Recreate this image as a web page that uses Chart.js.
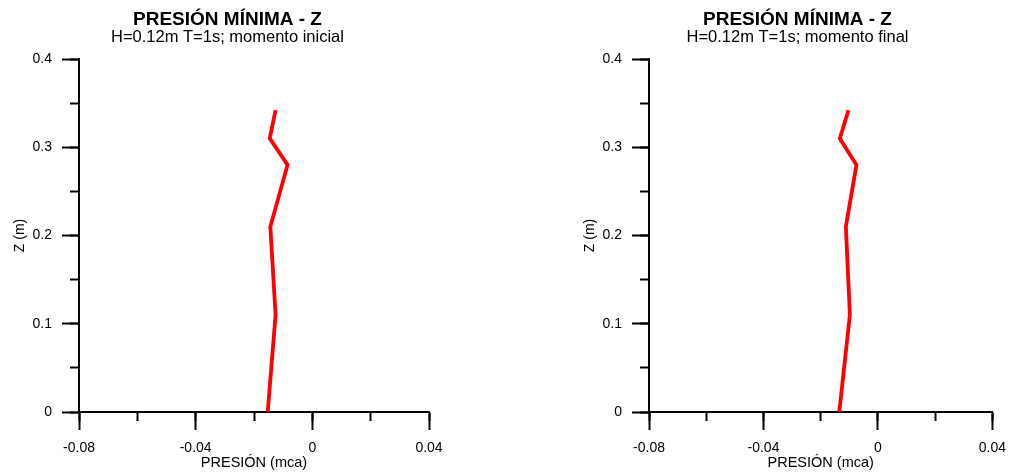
<!DOCTYPE html>
<html>
<head>
<meta charset="utf-8">
<title>Presión mínima - Z</title>
<script src="https://cdn.jsdelivr.net/npm/chart.js@4.4.1/dist/chart.umd.min.js"></script>
<style>
  body { margin: 0; background: #fff; overflow: hidden; }
  canvas { position: absolute; top: 0; }
  #chartInicial { left: 0; }
  #chartFinal { left: 570px; }
</style>
</head>
<body>
<canvas id="chartInicial" width="455" height="476"></canvas>
<canvas id="chartFinal" width="446" height="476"></canvas>
<script>
// Z (m) levels and minimum pressure (mca)
const zLevels = [0, 0.11, 0.21, 0.28, 0.31, 0.342];
const presionInicial = [-0.0153, -0.0126, -0.0144, -0.0085, -0.0146, -0.0126];
const presionFinal = [-0.0135, -0.0098, -0.0112, -0.0075, -0.0133, -0.0103];

const xTicks = [-0.08, -0.04, 0, 0.04];
const xMinorTicks = [-0.08, -0.06, -0.04, -0.02, 0, 0.02, 0.04];
const zTicks = [0, 0.1, 0.2, 0.3, 0.4];
const zMinorTicks = [0, 0.05, 0.1, 0.15, 0.2, 0.25, 0.3, 0.35, 0.4];

const fam = '"Liberation Sans", Arial, sans-serif';

function setTicks(list) {
    return function (scale) {
        scale.ticks = list.map(v => ({ value: v }));
    };
}

function makeChart(id, presion, subtitle, rightPad) {
    const ctx = document.getElementById(id).getContext('2d');
    const points = zLevels.map((z, i) => ({ x: presion[i], y: z }));

    new Chart(ctx, {
        type: 'scatter',
        data: {
            datasets: [{
                data: points,
                showLine: true,
                borderColor: '#ff0000',
                borderWidth: 3.8,
                borderJoinStyle: 'miter',
                pointRadius: 0,
                fill: false
            }]
        },
        options: {
            responsive: false,
            animation: false,
            // left padding keeps the title centred where the original has it
            layout: { padding: { left: 26, right: rightPad, top: 0, bottom: 0 } },
            plugins: {
                legend: { display: false },
                tooltip: { enabled: false },
                title: {
                    display: true,
                    text: 'PRESIÓN MÍNIMA - Z',
                    color: '#000',
                    font: { family: fam, size: 19, weight: 'bold', lineHeight: 1 },
                    padding: { top: 10.5, bottom: 0 }
                },
                subtitle: {
                    display: true,
                    text: subtitle,
                    color: '#000',
                    font: { family: fam, size: 16.5, lineHeight: 1 },
                    padding: { top: 0, bottom: 13 }
                }
            },
            scales: {
                x: {
                    type: 'linear',
                    position: 'bottom',
                    weight: 1,
                    min: -0.08,
                    max: 0.04,
                    afterBuildTicks: setTicks(xTicks),
                    afterFit: function (scale) { scale.height = 64; },
                    ticks: {
                        color: '#000',
                        padding: 10,
                        maxRotation: 0,
                        font: { family: fam, size: 14 },
                        callback: v => String(v)
                    },
                    grid: { drawOnChartArea: false, tickLength: 18, tickWidth: 2, tickColor: '#000' },
                    border: { display: true, color: '#000', width: 2 },
                    title: {
                        display: true,
                        text: 'PRESIÓN (mca)',
                        color: '#000',
                        font: { family: fam, size: 14.5, lineHeight: 1.2 },
                        padding: { top: 0, bottom: 4.3 }
                    }
                },
                xMinor: {
                    type: 'linear',
                    axis: 'x',
                    position: 'bottom',
                    weight: 0,
                    min: -0.08,
                    max: 0.04,
                    afterBuildTicks: setTicks(xMinorTicks),
                    afterFit: function (scale) { scale.height = 0; },
                    ticks: { display: false },
                    grid: { drawOnChartArea: false, tickLength: 9, tickWidth: 2, tickColor: '#000' },
                    border: { display: false }
                },
                y: {
                    type: 'linear',
                    position: 'left',
                    weight: 1,
                    min: 0,
                    max: 0.4,
                    afterBuildTicks: setTicks(zTicks),
                    afterFit: function (scale) { scale.width = 53; },
                    ticks: {
                        color: '#000',
                        padding: 10,
                        font: { family: fam, size: 14 },
                        callback: v => String(v)
                    },
                    grid: { drawOnChartArea: false, tickLength: 17, tickWidth: 2, tickColor: '#000' },
                    border: { display: true, color: '#000', width: 2 },
                    title: {
                        display: true,
                        text: 'Z (m)',
                        color: '#000',
                        font: { family: fam, size: 14, lineHeight: 1.2 },
                        padding: { top: -14.4, bottom: 0 }
                    }
                },
                yMinor: {
                    type: 'linear',
                    axis: 'y',
                    position: 'left',
                    weight: 0,
                    min: 0,
                    max: 0.4,
                    afterBuildTicks: setTicks(zMinorTicks),
                    afterFit: function (scale) { scale.width = 0; },
                    ticks: { display: false },
                    grid: { drawOnChartArea: false, tickLength: 9, tickWidth: 2, tickColor: '#000' },
                    border: { display: false }
                }
            }
        }
    });
}

makeChart('chartInicial', presionInicial, 'H=0.12m T=1s; momento inicial', 26);
makeChart('chartFinal', presionFinal, 'H=0.12m T=1s; momento final', 17);
</script>
</body>
</html>
